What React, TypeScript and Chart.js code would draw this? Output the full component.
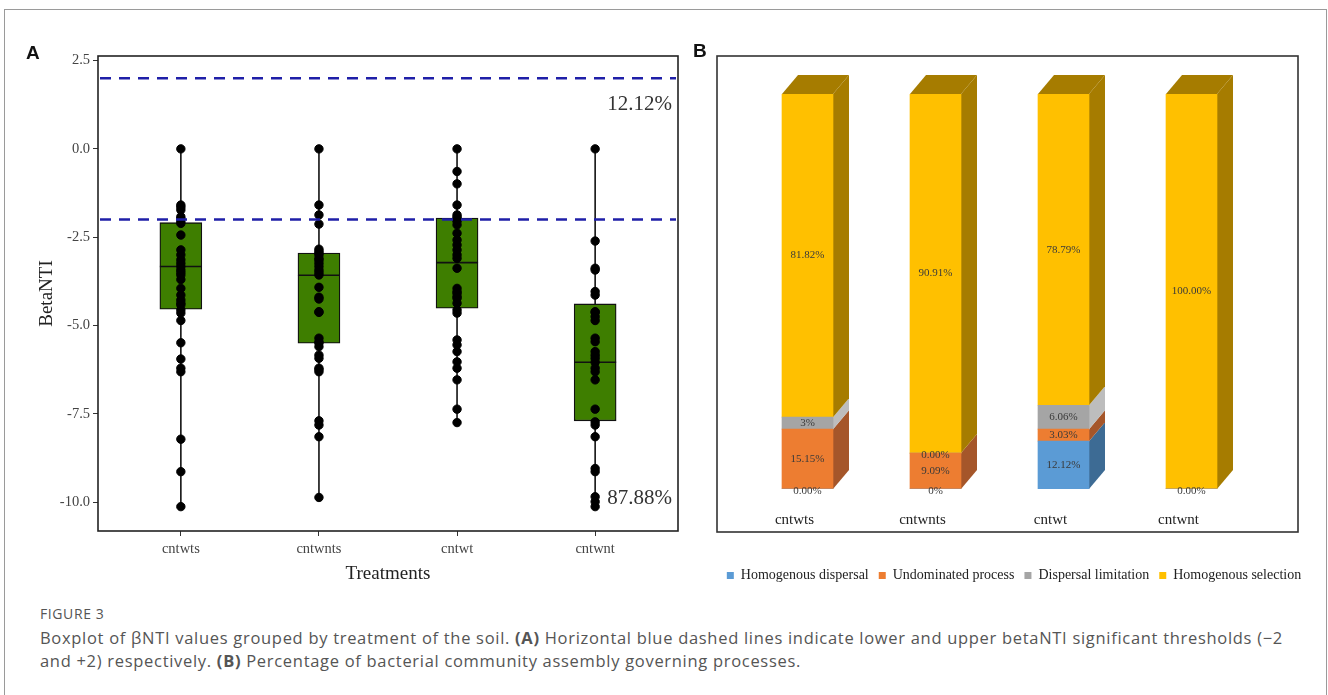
import React, { useEffect, useRef } from 'react';
import { Chart, registerables } from 'chart.js';

Chart.register(...registerables);

// ---------- Panel A data ----------
const treatments = ['cntwts', 'cntwnts', 'cntwt', 'cntwnt'];

const cntwtsValues = [0, -1.59, -1.65, -1.73, -1.92, -1.97, -2.05, -2.11, -2.44, -2.86, -3.0, -3.14, -3.24, -3.33,
  -3.43, -3.5, -3.57, -3.7, -3.95, -4.14, -4.28, -4.37, -4.42, -4.56, -4.65, -4.86, -5.49, -5.95, -6.21, -6.31,
  -8.22, -9.14, -10.13];
const cntwntsValues = [0, -1.59, -1.87, -2.13, -2.84, -2.9, -2.95, -3.0, -3.1, -3.15, -3.24, -3.33, -3.43, -3.5,
  -3.57, -3.92, -4.2, -4.25, -4.61, -4.63, -5.36, -5.46, -5.5, -5.6, -5.84, -5.93, -6.21, -6.25, -6.31, -7.7,
  -7.82, -8.15, -9.87];
const cntwtValues = [0, -0.64, -0.99, -1.59, -1.87, -1.93, -1.98, -2.05, -2.15, -2.39, -2.58, -2.72, -2.86, -3.0,
  -3.1, -3.38, -3.95, -4.04, -4.09, -4.18, -4.23, -4.37, -4.56, -4.65, -5.41, -5.55, -5.74, -6.03, -6.21, -6.54,
  -7.37, -7.75];
const cntwntValues = [0, -2.61, -3.38, -3.43, -4.04, -4.14, -4.61, -4.63, -4.75, -4.86, -5.36, -5.46, -5.74, -5.84,
  -5.93, -6.04, -6.21, -6.31, -6.54, -7.37, -7.73, -7.82, -8.15, -9.05, -9.14, -9.85, -9.99, -10.13];
const groupValues = [cntwtsValues, cntwntsValues, cntwtValues, cntwntValues];

const boxQ3 = [-2.09, -2.95, -1.96, -4.39];
const boxMedian = [-3.33, -3.58, -3.22, -6.04];
const boxQ1 = [-4.54, -5.5, -4.51, -7.7];
const whiskerHigh = [0, 0, 0, 0];
const whiskerLow = [-10.13, -9.87, -7.75, -10.13];

const yTicksA = [2.5, 0, -2.5, -5, -7.5, -10];
const thresholds = [2, -2];
const annotationTexts = ['12.12%', '87.88%'];
const annotationY = [1.25, -9.9];

// ---------- Panel B data ----------
const processes = ['Homogenous dispersal', 'Undominated process', 'Dispersal limitation', 'Homogenous selection'];
const homDisp = [0, 0, 12.12, 0];
const undom = [15.15, 9.09, 3.03, 0];
const dispLim = [3.03, 0, 6.06, 0];
const homSel = [81.82, 90.91, 78.79, 100];
const homDispLabels = ['0.00%', '0%', '12.12%', '0.00%'];
const undomLabels = ['15.15%', '9.09%', '3.03%', ''];
const dispLimLabels = ['3%', '0.00%', '6.06%', ''];
const homSelLabels = ['81.82%', '90.91%', '78.79%', '100.00%'];

const seriesB = [homDisp, undom, dispLim, homSel];
const labelsB = [homDispLabels, undomLabels, dispLimLabels, homSelLabels];
const frontColors = ['#5B9BD5', '#ED7D31', '#A5A5A5', '#FFC000'];
const sideColors = ['#3D6B94', '#A5562A', '#BDBDBD', '#A67C00'];

const SERIF = "'Liberation Serif', 'Times New Roman', serif";

const boxPlotPlugin = {
  id: 'boxPlotPlugin',
  beforeDatasetsDraw(chart: any) {
    const { ctx, scales } = chart;
    const xs = scales.x, ys = scales.y;
    ctx.save();
    ctx.strokeStyle = '#111';
    ctx.lineWidth = 1.6;
    treatments.forEach((_, i) => {
      const x = xs.getPixelForValue(i + 1);
      ctx.beginPath();
      ctx.moveTo(x, ys.getPixelForValue(whiskerHigh[i]));
      ctx.lineTo(x, ys.getPixelForValue(whiskerLow[i]));
      ctx.stroke();
    });
    ctx.restore();
  },
  afterDatasetDraw(chart: any, args: any) {
    if (args.index !== 1) return;
    const { ctx, scales } = chart;
    const xs = scales.x, ys = scales.y;
    const meta = chart.getDatasetMeta(1);
    ctx.save();
    ctx.strokeStyle = '#111';
    ctx.lineWidth = 1.6;
    treatments.forEach((_, i) => {
      const el = meta.data[i];
      const x = xs.getPixelForValue(i + 1);
      const hw = el.width / 2;
      const y = ys.getPixelForValue(boxMedian[i]);
      ctx.beginPath();
      ctx.moveTo(x - hw, y);
      ctx.lineTo(x + hw, y);
      ctx.stroke();
    });
    ctx.restore();
  },
  afterDatasetsDraw(chart: any) {
    const { ctx, scales, chartArea } = chart;
    const ys = scales.y;
    ctx.save();
    ctx.strokeStyle = '#1F1FA8';
    ctx.lineWidth = 2.6;
    ctx.setLineDash([11, 8]);
    thresholds.forEach((t) => {
      const y = ys.getPixelForValue(t);
      ctx.beginPath();
      ctx.moveTo(chartArea.left + 2, y);
      ctx.lineTo(chartArea.right - 2, y);
      ctx.stroke();
    });
    ctx.setLineDash([]);
    ctx.fillStyle = '#333';
    ctx.font = `21px ${SERIF}`;
    ctx.textAlign = 'right';
    ctx.textBaseline = 'middle';
    annotationTexts.forEach((t, i) => {
      ctx.fillText(t, chartArea.right - 6, ys.getPixelForValue(annotationY[i]));
    });
    ctx.strokeStyle = '#222';
    ctx.lineWidth = 1.6;
    ctx.strokeRect(chartArea.left, chartArea.top, chartArea.right - chartArea.left, chartArea.bottom - chartArea.top);
    ctx.restore();
  },
};

const DX = 16;
const DY = 19;

const threeDPlugin = {
  id: 'threeDPlugin',
  beforeDraw(chart: any) {
    const { ctx } = chart;
    ctx.save();
    ctx.strokeStyle = '#333';
    ctx.lineWidth = 1.6;
    ctx.strokeRect(17, 56, 581, 476);
    ctx.restore();
  },
  beforeDatasetsDraw(chart: any) {
    const { ctx } = chart;
    ctx.save();
    treatments.forEach((_, i) => {
      let topK = -1;
      seriesB.forEach((s, k) => { if (s[i] > 0) topK = k; });
      seriesB.forEach((s, k) => {
        const el: any = chart.getDatasetMeta(k).data[i];
        if (!el) return;
        const top = Math.min(el.y, el.base);
        const bottom = Math.max(el.y, el.base);
        if (bottom - top < 0.5) return;
        const left = el.x - el.width / 2;
        const right = el.x + el.width / 2;
        ctx.fillStyle = sideColors[k];
        ctx.beginPath();
        ctx.moveTo(right, bottom);
        ctx.lineTo(right + DX, bottom - DY);
        ctx.lineTo(right + DX, top - DY);
        ctx.lineTo(right, top);
        ctx.closePath();
        ctx.fill();
        if (k === topK) {
          ctx.beginPath();
          ctx.moveTo(left, top);
          ctx.lineTo(left + DX, top - DY);
          ctx.lineTo(right + DX, top - DY);
          ctx.lineTo(right, top);
          ctx.closePath();
          ctx.fill();
        }
      });
    });
    ctx.restore();
  },
  afterDatasetsDraw(chart: any) {
    const { ctx } = chart;
    ctx.save();
    ctx.font = `11px ${SERIF}`;
    ctx.fillStyle = '#3a3a3a';
    ctx.textAlign = 'center';
    ctx.textBaseline = 'middle';
    seriesB.forEach((s, k) => {
      const meta = chart.getDatasetMeta(k);
      s.forEach((v, i) => {
        const txt = labelsB[k][i];
        if (!txt) return;
        const el: any = meta.data[i];
        const y = v > 0 ? (el.y + el.base) / 2 : el.base + 2;
        ctx.fillText(txt, el.x, y);
      });
    });
    ctx.restore();
  },
};

function PanelA() {
  const ref = useRef<HTMLCanvasElement>(null);
  useEffect(() => {
    if (!ref.current) return;
    const points: { x: number; y: number }[] = [];
    groupValues.forEach((vals, i) => vals.forEach((v) => points.push({ x: i + 1, y: v })));
    const chart = new Chart(ref.current, {
      type: 'bar',
      data: {
        datasets: [
          {
            type: 'scatter',
            label: 'points',
            data: points,
            backgroundColor: '#000',
            borderColor: '#000',
            pointRadius: 4.2,
            pointHoverRadius: 4.2,
            order: 0,
          } as any,
          {
            type: 'bar',
            label: 'box',
            data: treatments.map((_, i) => ({ x: i + 1, y: [boxQ1[i], boxQ3[i]] })),
            backgroundColor: '#3E7E00',
            borderColor: '#111',
            borderWidth: 1.3,
            borderSkipped: false,
            barThickness: 42,
            order: 1,
          } as any,
        ],
      },
      options: {
        animation: false,
        responsive: false,
        maintainAspectRatio: false,
        layout: { padding: { top: 56, right: 22, left: 0, bottom: 0 } },
        plugins: { legend: { display: false }, tooltip: { enabled: false } },
        scales: {
          x: {
            type: 'linear',
            min: 0.4,
            max: 4.6,
            offset: false,
            afterBuildTicks: (s: any) => { s.ticks = treatments.map((_, i) => ({ value: i + 1 })); },
            ticks: {
              callback: (v: any) => treatments[Math.round(Number(v)) - 1] ?? '',
              font: { family: SERIF, size: 14.5 },
              color: '#444',
              padding: 4,
              maxRotation: 0,
            },
            grid: { drawOnChartArea: false, drawTicks: true, tickLength: 5, color: '#333', offset: false },
            border: { display: false },
            title: {
              display: true,
              text: 'Treatments',
              font: { family: SERIF, size: 19 },
              color: '#222',
              padding: { top: 0, bottom: 15 },
            },
            afterFit: (s: any) => { s.height = 69; },
          } as any,
          y: {
            type: 'linear',
            min: -10.82,
            max: 2.63,
            afterBuildTicks: (s: any) => { s.ticks = yTicksA.map((v) => ({ value: v })); },
            ticks: {
              callback: (v: any) => Number(v).toFixed(1),
              font: { family: SERIF, size: 14.5 },
              color: '#444',
              padding: 3,
            },
            grid: { drawOnChartArea: false, drawTicks: true, tickLength: 5, color: '#333' },
            border: { display: false },
            title: {
              display: true,
              text: 'BetaNTI',
              font: { family: SERIF, size: 19 },
              color: '#222',
              padding: { top: 36, bottom: 0 },
            },
            afterFit: (s: any) => { s.width = 98; },
          } as any,
        },
      },
      plugins: [boxPlotPlugin],
    });
    return () => chart.destroy();
  }, []);
  return <canvas ref={ref} width={700} height={600} style={{ position: 'absolute', left: 0, top: 0, width: 700, height: 600 }} />;
}

function PanelB() {
  const ref = useRef<HTMLCanvasElement>(null);
  useEffect(() => {
    if (!ref.current) return;
    const chart = new Chart(ref.current, {
      type: 'bar',
      data: {
        labels: treatments,
        datasets: seriesB.map((s, k) => ({
          label: processes[k],
          data: s,
          backgroundColor: frontColors[k],
          borderWidth: 0,
          barThickness: 51,
        })),
      },
      options: {
        animation: false,
        responsive: false,
        maintainAspectRatio: false,
        layout: { padding: { left: 0, right: 0, top: 94, bottom: 7.5 } },
        plugins: {
          legend: {
            position: 'bottom',
            labels: {
              boxWidth: 7,
              boxHeight: 7,
              padding: 10,
              font: { family: SERIF, size: 14 },
              color: '#222',
            },
          },
          tooltip: { enabled: false },
        },
        scales: {
          x: {
            stacked: true,
            grid: { display: false },
            border: { display: false },
            ticks: {
              font: { family: SERIF, size: 15 },
              color: '#222',
              padding: 14,
              labelOffset: -13,
              maxRotation: 0,
            },
            afterFit: (s: any) => { s.height = 69.5; },
          } as any,
          y: {
            stacked: true,
            min: 0,
            max: 100,
            position: 'left',
            ticks: { display: false },
            grid: { display: false },
            border: { display: false },
            afterFit: (s: any) => { s.width = 43.5; },
          } as any,
          yRight: {
            type: 'linear',
            position: 'right',
            min: 0,
            max: 1,
            ticks: { display: false },
            grid: { display: false },
            border: { display: false },
            afterFit: (s: any) => { s.width = 72.5; },
          } as any,
        },
      },
      plugins: [threeDPlugin],
    });
    return () => chart.destroy();
  }, []);
  return <canvas ref={ref} width={628} height={600} style={{ position: 'absolute', left: 700, top: 0, width: 628, height: 600 }} />;
}

export default function App() {
  const panelLabel: React.CSSProperties = {
    position: 'absolute',
    fontFamily: "'Liberation Sans', Arial, sans-serif",
    fontWeight: 700,
    fontSize: 19,
    color: '#111',
    lineHeight: '20px',
  };
  const captionFont = "'Open Sans', 'Noto Sans', sans-serif";
  return (
    <div style={{ position: 'absolute', left: 0, top: 0, width: 1328, height: 695, overflow: 'hidden', background: '#fff' }}>
      <div style={{ position: 'absolute', left: 4, top: 9, width: 1321, height: 720, border: '1px solid #9a9a9a' }} />
      <PanelA />
      <PanelB />
      <div style={{ ...panelLabel, left: 26, top: 43 }}>A</div>
      <div style={{ ...panelLabel, left: 693, top: 41 }}>B</div>
      <div style={{ position: 'absolute', left: 40, top: 605, fontFamily: captionFont, fontSize: 14, color: '#555', lineHeight: '18px', letterSpacing: 0.6 }}>
        FIGURE 3
      </div>
      <div style={{ position: 'absolute', left: 40, top: 626, fontFamily: captionFont, fontSize: 16.5, color: '#555', lineHeight: '23px', whiteSpace: 'nowrap', letterSpacing: 0.7 }}>
        Boxplot of βNTI values grouped by treatment of the soil. <b>(A)</b> Horizontal blue dashed lines indicate lower and upper betaNTI significant thresholds (−2
        <br />
        and +2) respectively. <b>(B)</b> Percentage of bacterial community assembly governing processes.
      </div>
    </div>
  );
}
